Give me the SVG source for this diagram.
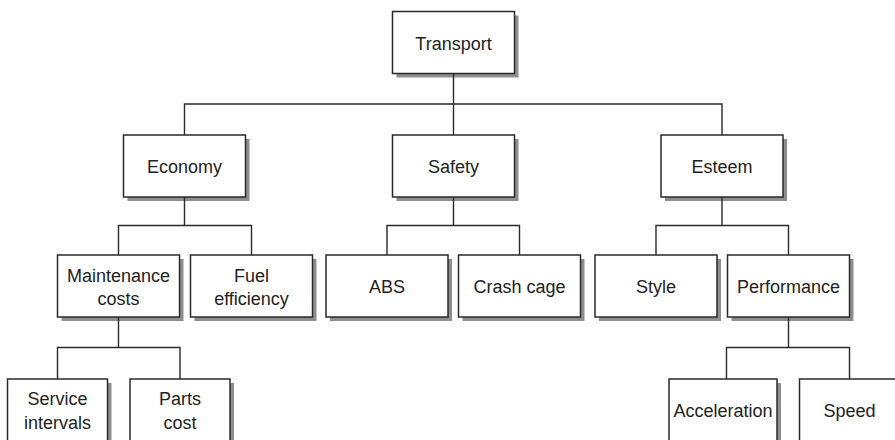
<svg xmlns="http://www.w3.org/2000/svg" width="895" height="440" viewBox="0 0 895 440">
<style>
.sh{fill:#8e8e8e;stroke:none}
.bx{fill:#fff;stroke:#2a2a2a;stroke-width:1.5}
.t{font-family:"Liberation Sans",Arial,sans-serif;font-size:18px;fill:#222;text-anchor:middle}
.c{fill:none;stroke:#2a2a2a;stroke-width:1.4}
</style>
<rect width="895" height="440" fill="#fff"/>
<g id="transport"><rect class="sh" x="396.5" y="15.5" width="122" height="62"/><rect class="bx" x="392.5" y="11.5" width="122" height="62"/><text class="t" x="453.5" y="49.5">Transport</text></g>
<g id="economy"><rect class="sh" x="127.5" y="139" width="122" height="62"/><rect class="bx" x="123.5" y="135" width="122" height="62"/><text class="t" x="184.5" y="173">Economy</text></g>
<g id="safety"><rect class="sh" x="396.5" y="139" width="122" height="62"/><rect class="bx" x="392.5" y="135" width="122" height="62"/><text class="t" x="453.5" y="173">Safety</text></g>
<g id="esteem"><rect class="sh" x="665" y="139" width="122" height="62"/><rect class="bx" x="661" y="135" width="122" height="62"/><text class="t" x="722" y="173">Esteem</text></g>
<g id="maintenance"><rect class="sh" x="61.5" y="259" width="122" height="62"/><rect class="bx" x="57.5" y="255" width="122" height="62"/><text class="t" x="118.5" y="281.5">Maintenance</text><text class="t" x="118.5" y="304.5">costs</text></g>
<g id="fuel"><rect class="sh" x="194.5" y="259" width="122" height="62"/><rect class="bx" x="190.5" y="255" width="122" height="62"/><text class="t" x="251.5" y="281.5">Fuel</text><text class="t" x="251.5" y="304.5">efficiency</text></g>
<g id="abs"><rect class="sh" x="330" y="259" width="122" height="62"/><rect class="bx" x="326" y="255" width="122" height="62"/><text class="t" x="387" y="293">ABS</text></g>
<g id="crash"><rect class="sh" x="462.5" y="259" width="122" height="62"/><rect class="bx" x="458.5" y="255" width="122" height="62"/><text class="t" x="519.5" y="293">Crash cage</text></g>
<g id="style"><rect class="sh" x="599" y="259" width="122" height="62"/><rect class="bx" x="595" y="255" width="122" height="62"/><text class="t" x="656" y="293">Style</text></g>
<g id="performance"><rect class="sh" x="731.5" y="259" width="122" height="62"/><rect class="bx" x="727.5" y="255" width="122" height="62"/><text class="t" x="788.5" y="293">Performance</text></g>
<g id="service"><rect class="sh" x="11.5" y="383" width="100" height="62"/><rect class="bx" x="7.5" y="379" width="100" height="62"/><text class="t" x="57.5" y="405">Service</text><text class="t" x="57.5" y="428.5">intervals</text></g>
<g id="parts"><rect class="sh" x="134" y="383" width="100" height="62"/><rect class="bx" x="130" y="379" width="100" height="62"/><text class="t" x="180" y="405">Parts</text><text class="t" x="180" y="428.5">cost</text></g>
<g id="acceleration"><rect class="sh" x="673" y="383" width="108" height="62"/><rect class="bx" x="669" y="379" width="108" height="62"/><text class="t" x="723" y="417">Acceleration</text></g>
<g id="speed"><rect class="sh" x="803.5" y="383" width="100" height="62"/><rect class="bx" x="799.5" y="379" width="100" height="62"/><text class="t" x="849.5" y="417">Speed</text></g>
<g id="connectors">
<path class="c" d="M453.5 73.5V135M184.5 135V104H722V135"/>
<path class="c" d="M184.5 197V225.5M118.5 255V225.5H251.5V255"/>
<path class="c" d="M453.5 197V225.5M387 255V225.5H519.5V255"/>
<path class="c" d="M722 197V225.5M656 255V225.5H788.5V255"/>
<path class="c" d="M118.5 317V347.5M57.5 379V347.5H180V379"/>
<path class="c" d="M788.5 317V347.5M726.5 379V347.5H849.5V379"/>
</g>
</svg>
